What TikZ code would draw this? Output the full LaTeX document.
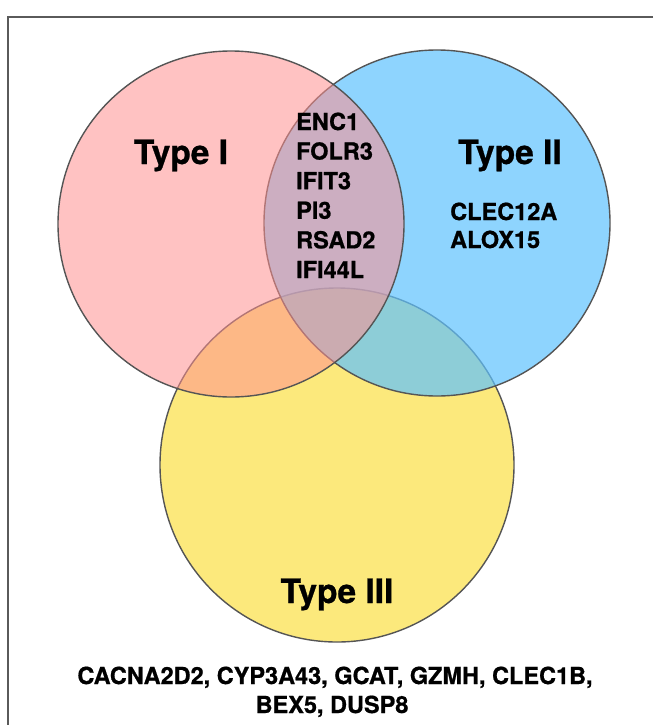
\documentclass[tikz,border=0pt]{standalone}
\usepackage{fontspec}
\setmainfont{TeX Gyre Heros}[BoldFeatures={FakeBold=0.8}]
\begin{document}
\begin{tikzpicture}[x=1pt,y=-1pt,
  ring/.style={line width=1.4pt, draw={rgb,255:red,85;green,85;blue,85}},
  typelabel/.style={font=\fontsize{33.5}{38}\selectfont\bfseries, inner sep=0pt},
  gene/.style={font=\fontsize{23.5}{27}\selectfont\bfseries, inner sep=0pt},
  frameline/.style={line width=1.1pt, draw={rgb,255:red,90;green,90;blue,90}}]
\definecolor{cI}{RGB}{255,144,144}
\definecolor{cII}{RGB}{95,194,254}
\definecolor{cIII}{RGB}{252,233,124}
\useasboundingbox (0,0) rectangle (653,725);
\fill[white] (0,0) rectangle (653,725);
% frame
\coordinate (ftl) at (8,17);
\coordinate (ftr) at (653,17);
\coordinate (fbl) at (8,725);
\draw[frameline] (ftr) -- (ftl) -- (fbl);
% circle centres
\coordinate (cA) at (231,224);
\coordinate (cB) at (437,223);
\coordinate (cC) at (337,465);
% circles: III bottom, II middle, I top
\filldraw[ring, fill=cIII] (cC) circle[radius=177pt];
\filldraw[ring, fill=cII, fill opacity=0.7] (cB) circle[radius=173pt];
\filldraw[ring, fill=cI, fill opacity=0.55] (cA) circle[radius=173pt];
% labels
\node[typelabel, anchor=base] (tI) at (181,164) {Type I};
\node[typelabel, anchor=base] (tII) at (510,164) {Type II};
\node[typelabel, anchor=base] (tIII) at (337,603) {Type III};
\node[gene, anchor=base west] (g1) at (296,130) {ENC1};
\node[gene, anchor=base west] (g2) at (296,159.6) {FOLR3};
\node[gene, anchor=base west] (g3) at (296,189.2) {IFIT3};
\node[gene, anchor=base west] (g4) at (296,218.8) {PI3};
\node[gene, anchor=base west] (g5) at (296,248.4) {RSAD2};
\node[gene, anchor=base west] (g6) at (296,278) {IFI44L};
\node[gene, anchor=base west] (h1) at (450,220) {CLEC12A};
\node[gene, anchor=base west] (h2) at (450,248) {ALOX15};
\node[gene, anchor=base] (b1) at (335,684) {CACNA2D2, CYP3A43, GCAT, GZMH, CLEC1B,};
\node[gene, anchor=base] (b2) at (332,713) {BEX5, DUSP8};
\end{tikzpicture}
\end{document}
